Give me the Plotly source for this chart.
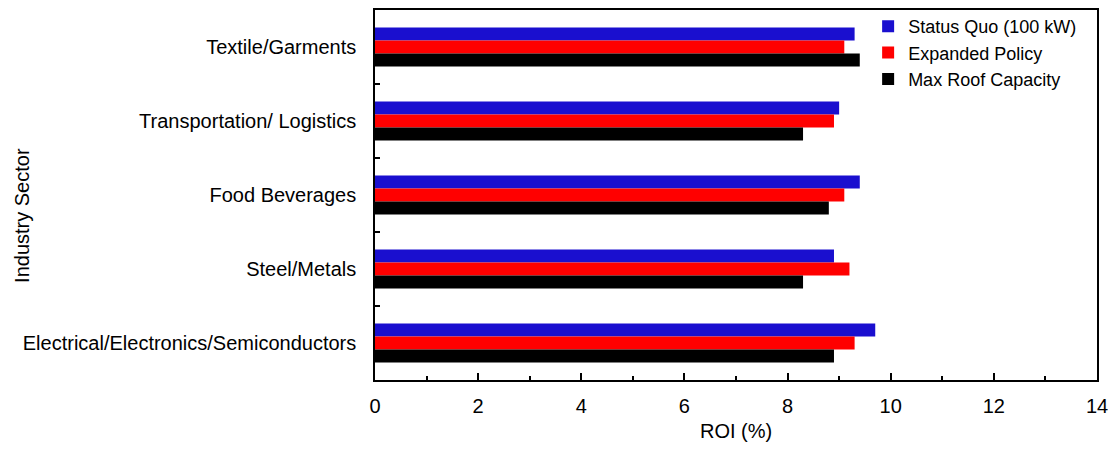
import plotly.graph_objects as go

categories = ["Textile/Garments", "Transportation/ Logistics", "Food Beverages",
              "Steel/Metals", "Electrical/Electronics/Semiconductors"]
status_quo = [9.3, 9.0, 9.4, 8.9, 9.7]
expanded_policy = [9.1, 8.9, 9.1, 9.2, 9.3]
max_roof = [9.4, 8.3, 8.8, 8.3, 8.9]

series_names = ["Status Quo (100 kW)", "Expanded Policy", "Max Roof Capacity"]
series_colors = ["#1a0fcf", "#ff0000", "#000000"]
series_values = [status_quo, expanded_policy, max_roof]

FONT = "Liberation Sans, Arial, sans-serif"

fig = go.Figure()
for name, color, vals in zip(series_names, series_colors, series_values):
    fig.add_trace(go.Bar(
        y=categories, x=vals, name=name, orientation="h",
        marker=dict(color=color, line=dict(width=0)),
    ))

fig.update_layout(
    width=1100, height=434,
    margin=dict(l=367, r=11, t=2, b=62, autoexpand=False),
    paper_bgcolor="white", plot_bgcolor="white",
    barmode="group", bargap=0.47, bargroupgap=0,
    font=dict(family=FONT, size=20, color="black"),
    showlegend=True,
    legend=dict(x=0.683, y=1.0, xanchor="left", yanchor="top", yref="container",
                bgcolor="rgba(0,0,0,0)", font=dict(size=18, family=FONT),
                tracegroupgap=0, itemwidth=30),
    annotations=[
        dict(text="Industry Sector", textangle=-90,
             xref="paper", yref="paper", x=-0.489, y=0.446,
             xanchor="center", yanchor="middle", showarrow=False,
             font=dict(size=20, family=FONT, color="black")),
        dict(text="ROI (%)",
             xref="paper", yref="paper", x=0.5, y=-0.138,
             xanchor="center", yanchor="middle", showarrow=False,
             font=dict(size=20, family=FONT, color="black")),
    ],
)
fig.update_xaxes(
    range=[0, 14], dtick=2, tick0=0,
    ticks="inside", ticklen=7, tickwidth=1.5, tickcolor="black",
    minor=dict(dtick=1, ticks="inside", ticklen=4, tickwidth=1.5, tickcolor="black"),
    showline=True, linecolor="black", linewidth=1.5, mirror=True,
    showgrid=False, zeroline=False,
    ticklabelstandoff=7, ticklabeloverflow="allow",
    tickfont=dict(size=20, family=FONT),
)
fig.update_yaxes(
    autorange="reversed",
    tickson="boundaries", ticks="inside", ticklen=5, tickwidth=1.5, tickcolor="black",
    showline=True, linecolor="black", linewidth=1.5, mirror=True,
    showgrid=False, zeroline=False,
    ticklabelstandoff=13,
    tickfont=dict(size=20, family=FONT),
)

fig.write_html("out.html")
